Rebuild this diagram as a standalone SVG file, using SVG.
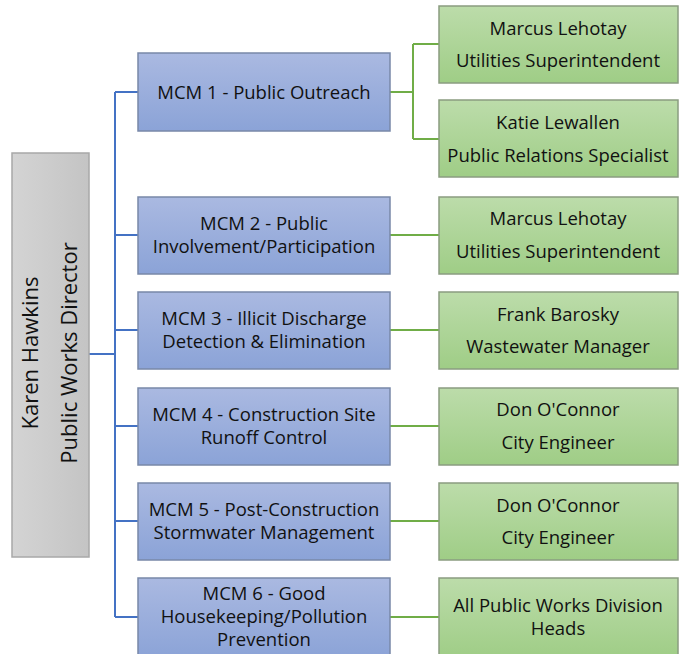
<svg xmlns="http://www.w3.org/2000/svg" width="680" height="654" viewBox="0 0 680 654">
<defs>
<linearGradient id="gBlue" x1="0" y1="0" x2="0" y2="1"><stop offset="0" stop-color="#aab9e1"/><stop offset="1" stop-color="#8ba3d7"/></linearGradient>
<linearGradient id="gGreen" x1="0" y1="0" x2="0" y2="1"><stop offset="0" stop-color="#bcdcaa"/><stop offset="1" stop-color="#9fcd86"/></linearGradient>
<linearGradient id="gGray" x1="0" y1="0" x2="1" y2="0"><stop offset="0" stop-color="#d4d4d4"/><stop offset="1" stop-color="#c4c4c4"/></linearGradient>
</defs>
<style>
.blue{fill:url(#gBlue);stroke:#7888a8;stroke-width:1.5}
.green{fill:url(#gGreen);stroke:#8a9c80;stroke-width:1.5}
.gray{fill:url(#gGray);stroke:#a8a8a8;stroke-width:1.5}
text{font-family:"Open Sans","Liberation Sans",sans-serif;font-size:18.5px;fill:#111;text-anchor:middle}
.big{font-size:22px}
.bl{fill:none;stroke:#4472c4;stroke-width:2}
.gl{fill:none;stroke:#70ad47;stroke-width:2}
</style>
<g id="connectors">
<path class="bl" d="M89 354 H115 M115 92 V617 M115 92 H138 M115 235 H138 M115 330 H138 M115 426 H138 M115 521 H138 M115 617 H138"/>
<path class="gl" d="M390 92 H413 M413 44 V139 M413 44 H439 M413 139 H439 M390 235 H439 M390 330 H439 M390 426 H439 M390 521 H439 M390 617 H439"/>
</g>
<g id="director">
<rect class="gray" x="12" y="153" width="77" height="404"/>
<text class="big" transform="translate(38,353) rotate(-90)">Karen Hawkins</text>
<text class="big" transform="translate(77,353) rotate(-90)">Public Works Director</text>
</g>
<g id="mcm1"><rect class="blue" x="138" y="53" width="252" height="78"/><text x="264" y="99">MCM 1 - Public Outreach</text></g>
<g id="mcm2"><rect class="blue" x="138" y="197" width="252" height="77"/><text x="264" y="230">MCM 2 - Public</text><text x="264" y="253">Involvement/Participation</text></g>
<g id="mcm3"><rect class="blue" x="138" y="292" width="252" height="77"/><text x="264" y="325">MCM 3 - Illicit Discharge</text><text x="264" y="348">Detection &amp; Elimination</text></g>
<g id="mcm4"><rect class="blue" x="138" y="388" width="252" height="77"/><text x="264" y="421">MCM 4 - Construction Site</text><text x="264" y="444">Runoff Control</text></g>
<g id="mcm5"><rect class="blue" x="138" y="483" width="252" height="77"/><text x="264" y="516">MCM 5 - Post-Construction</text><text x="264" y="539">Stormwater Management</text></g>
<g id="mcm6"><rect class="blue" x="138" y="578" width="252" height="80"/><text x="264" y="600">MCM 6 - Good</text><text x="264" y="623">Housekeeping/Pollution</text><text x="264" y="646">Prevention</text></g>
<g id="lehotay1"><rect class="green" x="439" y="6" width="239" height="77"/><text x="558" y="35">Marcus Lehotay</text><text x="558" y="67">Utilities Superintendent</text></g>
<g id="lewallen"><rect class="green" x="439" y="100" width="239" height="77"/><text x="558" y="129">Katie Lewallen</text><text x="558" y="162">Public Relations Specialist</text></g>
<g id="lehotay2"><rect class="green" x="439" y="197" width="239" height="77"/><text x="558" y="225">Marcus Lehotay</text><text x="558" y="258">Utilities Superintendent</text></g>
<g id="barosky"><rect class="green" x="439" y="292" width="239" height="77"/><text x="558" y="321">Frank Barosky</text><text x="558" y="353">Wastewater Manager</text></g>
<g id="oconnor1"><rect class="green" x="439" y="388" width="239" height="77"/><text x="558" y="416">Don O'Connor</text><text x="558" y="449">City Engineer</text></g>
<g id="oconnor2"><rect class="green" x="439" y="483" width="239" height="77"/><text x="558" y="512">Don O'Connor</text><text x="558" y="544">City Engineer</text></g>
<g id="heads"><rect class="green" x="439" y="578" width="239" height="80"/><text x="558" y="612">All Public Works Division</text><text x="558" y="635">Heads</text></g>
</svg>
